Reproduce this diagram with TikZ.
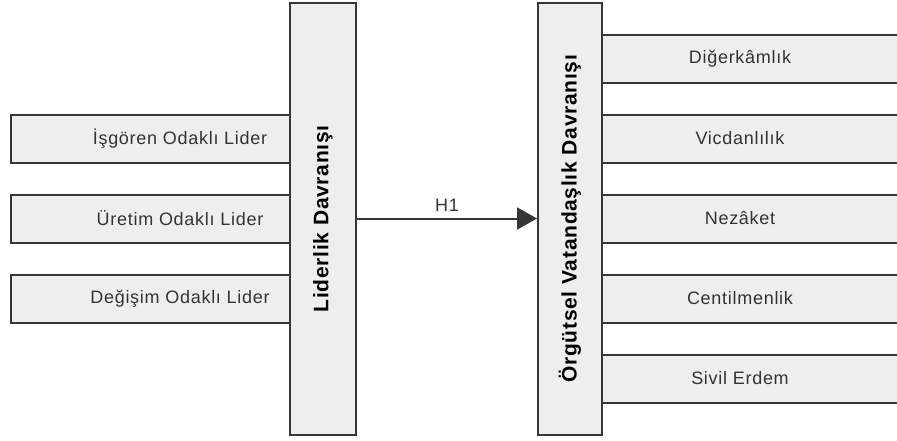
\documentclass[tikz,border=0pt]{standalone}
\usepackage{fontspec}
\setmainfont{Liberation Sans}
\newfontfamily\boxfont[LetterSpace=4]{Liberation Sans}
\newfontfamily\headfont[LetterSpace=3.5]{Liberation Sans}
\usetikzlibrary{arrows.meta}
\definecolor{edgecol}{HTML}{363636}
\definecolor{boxfill}{HTML}{EEEEEE}
\definecolor{ink}{HTML}{333333}
\tikzset{
  itembox/.style={draw=edgecol, fill=boxfill, line width=2pt, inner sep=0pt,
    text=ink, font=\boxfont\fontsize{18}{21}\selectfont},
  leftitem/.style={itembox, minimum width=338pt, minimum height=48pt},
  rightitem/.style={itembox, minimum width=340pt, minimum height=48pt},
  bigbox/.style={draw=edgecol, fill=boxfill, line width=2pt, inner sep=0pt,
    minimum height=432.5pt, text=black, font=\headfont\bfseries\fontsize{21}{24}\selectfont},
  link/.style={draw=edgecol, line width=2pt, -{Triangle[length=20pt,width=22pt]}},
  linklabel/.style={text=ink, font=\boxfont\fontsize{18}{21}\selectfont}
}
\begin{document}
\begin{tikzpicture}[x=1pt,y=-1pt]
  \useasboundingbox (0,0) rectangle (897,440);
  \clip (0,0) rectangle (897,440);
  % leadership styles (left), partly covered by the main box
  \node[leftitem] (isgoren) at (180,138.5) {İşgören Odaklı Lider};
  \node[leftitem] (uretim)  at (180,218.5) {Üretim Odaklı Lider};
  \node[leftitem] (degisim) at (180,298.5) {Değişim Odaklı Lider};
  % leadership behaviour
  \node[bigbox, minimum width=66pt] (lider) at (323,218.75)
    {\rotatebox{90}{Liderlik Davranışı}};
  % citizenship dimensions (right), partly covered by the main box
  \node[rightitem] (diger)   at (740,58.5)  {Diğerkâmlık};
  \node[rightitem] (vicdan)  at (740,138.5) {Vicdanlılık};
  \node[rightitem] (nezaket) at (740,218.5) {Nezâket};
  \node[rightitem] (centil)  at (740,298.5) {Centilmenlik};
  \node[rightitem] (sivil)   at (740,378.5) {Sivil Erdem};
  % organisational citizenship behaviour
  \node[bigbox, minimum width=64pt] (orgut) at (570,218.75)
    {\rotatebox{90}{Örgütsel Vatandaşlık Davranışı}};
  % hypothesis
  \draw[link] (lider.east |- 0,218.5) -- node[linklabel, above=3pt] (h1) {H1} (orgut.west |- 0,218.5);
\end{tikzpicture}
\end{document}
